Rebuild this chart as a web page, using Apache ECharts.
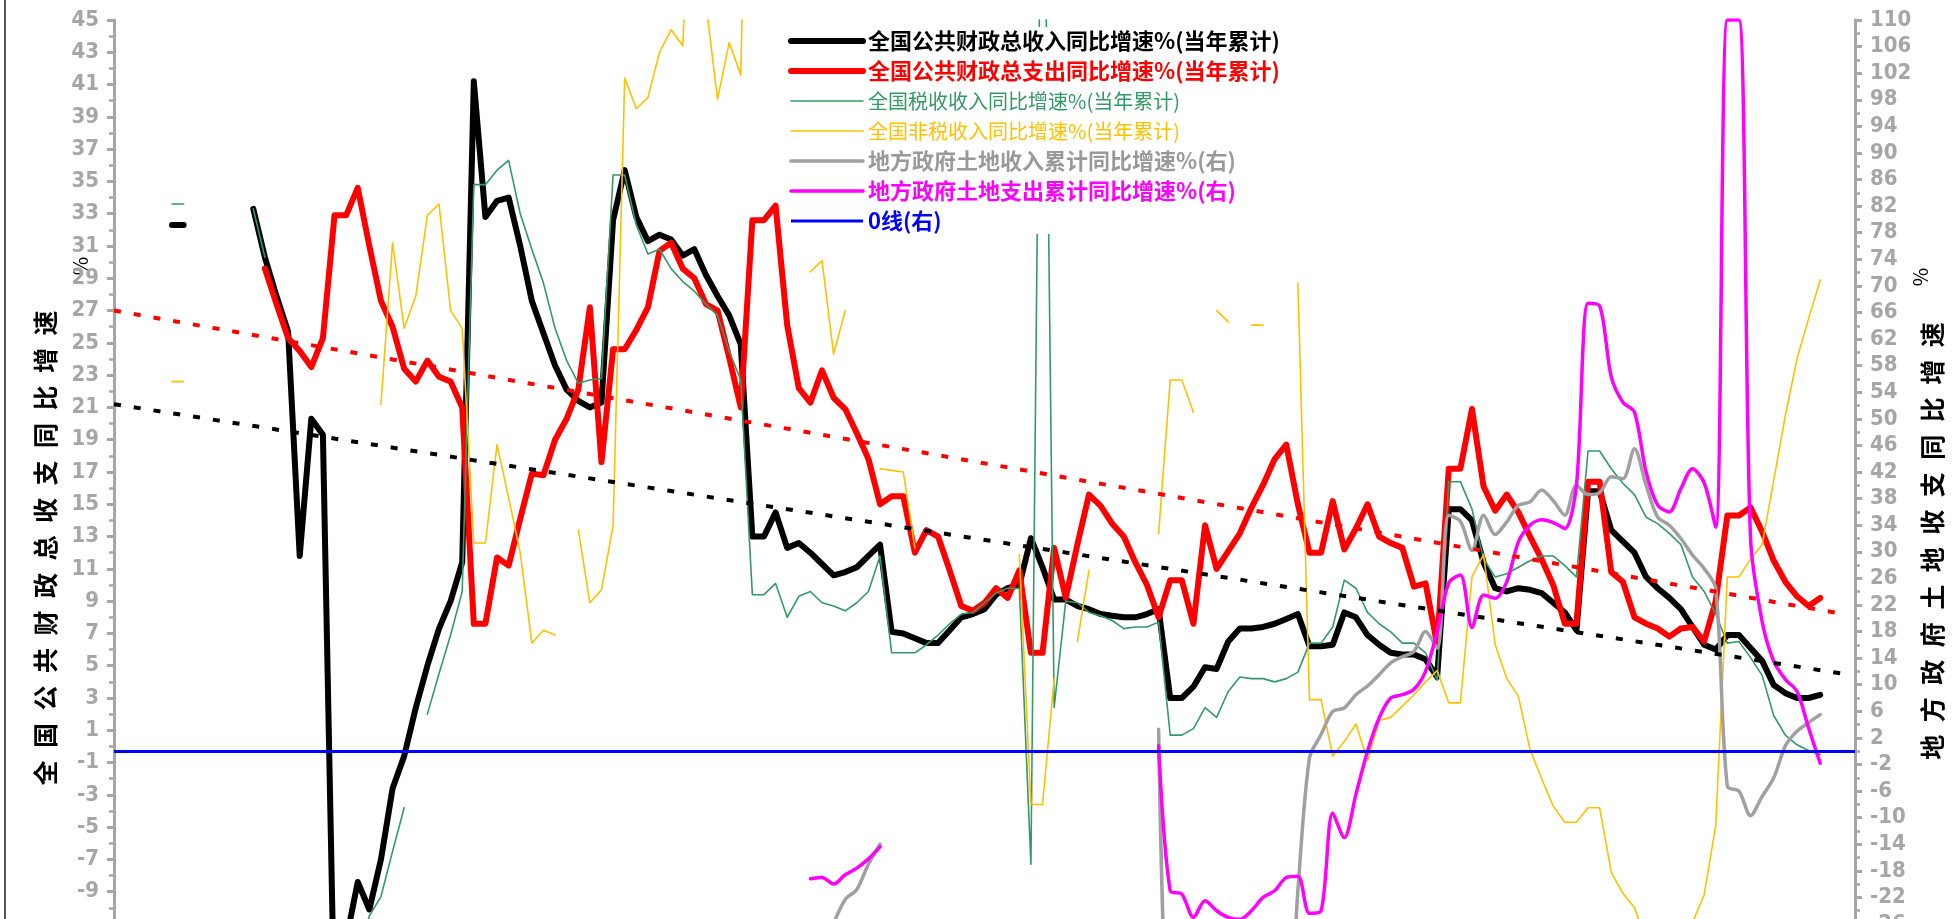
<!DOCTYPE html>
<html><head><meta charset="utf-8">
<script src="https://cdn.jsdelivr.net/npm/echarts@6/dist/echarts.min.js"></script>
<style>html,body{margin:0;padding:0;background:#fff}#c{width:1955px;height:919px}</style>
</head><body><div id="c"></div>
<script>
// monthly categories 2007-06 .. 2019-12
const categories = [];
for (let y = 2007, m = 6; y < 2020;) {
  categories.push(y + '-' + String(m).padStart(2, '0'));
  m++; if (m > 12) { m = 1; y++; }
}
const _ = null;
const seriesNames = [
  '全国公共财政总收入同比增速%(当年累计)',
  '全国公共财政总支出同比增速%(当年累计)',
  '全国税收收入同比增速%(当年累计)',
  '全国非税收入同比增速%(当年累计)',
  '地方政府土地收入累计同比增速%(右)',
  '地方政府土地支出累计同比增速%(右)',
  '0线(右)'
];
const revenue = [_,_,_,_,_,32.3,32.3,_,_,_,_,_,
 33.3,30.3,27.9,25.7,11.8,20.3,19.3,
 -17,-12,-8.4,-10.1,-7.0,-2.6,-0.6,2.4,5.0,7.3,9.0,11.4,
 41.2,32.8,33.8,34.0,31.0,27.6,25.6,23.6,22.1,21.4,21.0,21.3,
 32.6,35.7,32.8,31.3,31.7,31.4,30.4,30.8,29.2,27.9,26.7,24.9,
 13.0,13.0,14.5,12.3,12.6,12.0,11.3,10.6,10.8,11.1,11.8,12.5,
 7.1,7.0,6.7,6.4,6.4,7.2,8.0,8.2,8.5,9.4,9.8,10.0,
 12.9,11.1,9.1,9.1,8.7,8.5,8.2,8.1,8.0,8.0,8.2,8.5,
 3.0,3.0,3.7,4.9,4.8,6.5,7.3,7.3,7.4,7.6,7.9,8.2,
 6.2,6.2,6.3,8.3,8.0,6.9,6.3,5.8,5.7,5.7,5.4,4.3,
 14.7,14.7,14.0,11.4,9.8,9.6,9.8,9.7,9.5,8.9,8.3,7.2,
 15.8,15.8,13.4,12.7,12.0,10.5,9.8,9.2,8.5,7.4,6.3,6.0,
 6.9,6.9,6.1,5.3,3.8,3.3,3.0,3.0,3.2,_,_,_];
const expenditure = [_,_,_,_,_,_,_,_,_,_,_,_,_,
 29.6,27.4,25.3,24.5,23.5,25.3,
 32.9,32.9,34.6,31.0,27.6,26.0,23.4,22.6,23.9,22.9,22.6,21.0,
 7.6,7.6,11.7,11.2,14.1,16.9,16.8,19.0,20.3,22.1,27.2,17.6,
 24.6,24.6,25.8,27.2,30.7,31.2,29.6,29.0,27.4,27.0,24.1,21.0,
 32.6,32.6,33.5,26.1,22.2,21.3,23.3,21.6,20.9,19.4,17.8,15.0,
 15.5,15.5,12.0,13.4,13.0,10.9,8.7,8.4,8.9,9.8,9.2,10.9,
 5.8,5.8,12.3,9.2,12.5,15.6,14.9,13.8,13.0,11.4,10.0,8.0,
 10.3,10.3,7.6,13.7,11.0,12.1,13.2,14.8,16.2,17.8,18.7,15.0,
 12.0,12.0,15.2,12.2,13.5,15.0,13.0,12.6,12.3,9.9,10.1,6.3,
 17.2,17.2,20.9,16.1,14.6,15.6,14.5,13.0,11.6,10.0,7.6,7.6,
 16.4,16.4,10.8,10.2,8.0,7.6,7.3,6.8,7.3,7.4,6.5,9.0,
 14.3,14.3,14.8,13.3,11.5,10.2,9.3,8.7,9.2,_,_,_];
const taxRevenue = [_,_,_,_,_,33.6,33.6,_,_,_,_,_,
 33.3,30.3,_,_,_,_,_,_,_,
 -13,-10.5,-9.3,-6.5,-3.8,_,2.0,4.5,6.9,9.6,
 34.8,34.8,35.7,36.3,33.0,30.8,28.7,25.9,23.9,22.5,22.7,22.8,
 35.4,35.4,32.3,30.5,30.8,29.6,28.8,28.2,27.4,26.7,24.5,22.7,
 9.4,9.4,10.1,8.0,9.3,9.6,8.9,8.7,8.4,8.9,9.6,11.8,
 5.8,5.8,5.8,6.3,6.9,7.6,8.2,8.3,8.9,9.5,9.8,9.8,
 -7.3,65,2.4,9.0,8.9,8.3,8.1,7.8,7.3,7.4,7.4,7.7,
 0.7,0.7,1.1,2.4,1.8,3.4,4.3,4.2,4.2,4.0,4.2,4.6,
 6.4,6.4,7.4,10.3,9.8,8.3,7.6,7.1,6.4,6.4,5.8,4.1,
 16.4,16.4,14.7,11.6,10.5,10.7,11.1,11.5,11.8,11.8,11.2,10.5,
 18.3,18.3,17.2,16.3,15.6,14.2,13.8,13.2,12.5,10.5,9.6,8.2,
 6.4,6.5,5.5,4.4,1.9,0.7,0.1,-0.25,-0.5,_,_,_];
const nonTaxRevenue = [_,_,_,_,_,22.6,22.6,
 _,_,_,_,_,_,_,_,_,_,_,_,_,_,_,_,
 21.2,31.2,25.9,27.9,32.9,33.6,27.0,25.9,
 12.6,12.6,18.7,15.4,12.0,6.4,7.2,6.9,_,13.4,8.9,9.7,
 13.7,41.4,39.5,40.2,43.0,44.4,43.4,60,46,40.1,43.6,41.6,
 75,_,_,_,_,29.4,30.1,24.3,27.0,_,_,17.2,
 17.1,17.0,12.3,_,_,_,_,_,_,_,_,11.9,
 -3.6,-3.6,4.2,_,6.5,10.9,_,_,_,_,_,13.2,
 22.7,22.7,20.7,_,27.0,26.3,_,26.1,26.1,_,_,28.7,
 2.9,2.9,-0.6,0.3,1.4,-0.9,1.6,1.8,2.5,3.2,4.0,4.7,
 2.7,2.7,10.5,11.9,6.3,4.2,3.1,-0.2,-2.0,-3.7,-4.7,-4.7,
 -3.8,-3.8,-7.8,-9.1,-10.0,-12.0,-13.0,-13.5,-12.5,-10.9,-9.2,-4.9,
 10.5,10.5,11.6,12.5,16.5,20.5,24.0,26.5,28.9,_,_,_];
const landRevenue = [
 _,_,_,_,_,_,_,_,_,_,_,_,_,_,_,_,_,_,_,_,_,_,_,_,_,_,_,_,_,_,
 _,_,_,_,_,_,_,_,_,_,_,_,_,_,_,_,_,_,_,_,_,_,_,_,_,_,_,_,_,_,_,
 -29,-25.8,-22.3,-20.8,-17.0,-14.0,
 _,_,_,_,_,_,_,_,_,_,_,_,_,_,_,_,_,_,_,_,_,_,_,
 3.3,-45,-40,-38,-36,-34,-33,-32,-33,-36,-40,-45,
 -21,-1,2.5,6.0,6.5,8.5,9.8,11.5,13.3,14.2,15.0,18.0,15.5,
 35.5,34.6,30.2,35.5,32.6,34.5,37.0,37.5,39.3,37.7,35.5,40.0,
 38.6,38.9,41.3,41.0,45.5,40.0,35.2,34.0,32.0,29.5,27.5,24.5,
 -5.3,-6.0,-9.7,-6.8,-4.0,0.8,3.0,4.3,5.5,_,_,_];
const landExpenditure = [
 _,_,_,_,_,_,_,_,_,_,_,_,_,_,_,_,_,_,_,_,_,_,_,_,_,_,_,_,_,_,
 _,_,_,_,_,_,_,_,_,_,_,_,_,_,_,_,_,_,_,_,_,_,_,_,_,_,_,_,_,_,
 -19.2,-19.0,-20.0,-18.6,-17.6,-16.2,-14.4,
 _,_,_,_,_,_,_,_,_,_,_,_,_,_,_,_,_,_,_,_,_,_,_,
 0.8,-21.0,-21.5,-25.0,-22.5,-24.0,-25.0,-25.3,-24.0,-22.0,-21.0,-19.0,
 -18.8,-24.4,-24.0,-9.3,-13.0,-6.5,0.0,5.0,8.0,8.5,9.3,12.0,18.0,
 25.3,26.5,18.6,23.5,23.0,25.5,31.5,34.0,34.8,34.4,33.5,40.0,
 67.4,67.0,56.3,52.5,51.0,42.0,37.0,36.0,39.5,42.5,40.4,33.7,
 110,110,32,19.5,13.5,10.8,9.0,3.5,-1.8,_,_,_];
// linear trend lines: [value at first month, value at 2019-11]
const revenueTrendEnds = [21.2, 4.5];
const expenditureTrendEnds = [27.0, 8.2];
const leftTicks = {min: -11, max: 45, step: 2};
const rightTicks = {min: -26, max: 110, step: 4};

const chart = echarts.init(document.getElementById('c'), null, {renderer: 'canvas'});
const trendEndCat = categories[149];
function ln(name, data, color, width, yIdx, smooth, z) {
  return {name, type: 'line', data, yAxisIndex: yIdx, symbol: 'none', smooth: smooth || false,
    connectNulls: false, z: z || 2,
    lineStyle: {color, width, join: 'round', cap: 'round'}, itemStyle: {color}};
}
const axisGray = '#A6A6A6';
const labelFont = {color: axisGray, fontFamily: '"Liberation Sans Narrow","Arial Narrow","DejaVu Sans Condensed",sans-serif', fontWeight: 'bold', fontSize: 22};
function yAx(t, pos, hideMin) {
  return {type: 'value', position: pos, min: t.min, max: t.max, interval: t.step,
    axisLine: {show: true, onZero: false, lineStyle: {color: axisGray, width: 3}},
    axisTick: {show: true, length: 7, lineStyle: {color: axisGray, width: 3}},
    minorTick: {show: true, splitNumber: 2, length: 5, lineStyle: {color: axisGray, width: 2.5}},
    splitLine: {show: false},
    axisLabel: Object.assign({margin: 15, showMinLabel: !hideMin}, labelFont)};
}
const cjk = '"Noto Sans CJK SC", sans-serif';
const sp = s => s.split('').join('\u2002');
function legItem(i, color, size, bold, w) {
  return {name: seriesNames[i], lineStyle: {width: w},
    textStyle: {color, fontSize: size, fontWeight: bold ? 'bold' : 'normal'}};
}
chart.setOption({
  animation: false,
  backgroundColor: '#fff',
  grid: {left: 114, right: 100, top: 20, bottom: -5, containLabel: false, outerBoundsMode: 'none'},
  xAxis: {type: 'category', data: categories, boundaryGap: false, show: false},
  yAxis: [yAx(leftTicks, 'left', true), yAx(rightTicks, 'right', false)],
  legend: {
    orient: 'vertical', left: 783, top: 27, padding: [3, 10, 2, 5], backgroundColor: '#fff',
    itemWidth: 72, itemHeight: 14, itemGap: 8, selectedMode: false,
    itemStyle: {opacity: 0},
    textStyle: {fontFamily: cjk, lineHeight: 22},
    data: [
      legItem(0, '#000000', 22, true, 6),
      legItem(1, '#FF0000', 22, true, 6),
      legItem(2, '#339966', 20, false, 1.6),
      legItem(3, '#FFC000', 20, false, 1.6),
      legItem(4, '#999999', 22, true, 3.5),
      legItem(5, '#FF00FF', 22, true, 3.5),
      legItem(6, '#0000FF', 22, true, 3)
    ]
  },
  graphic: [
    {type: 'line', shape: {x1: 5, y1: 0, x2: 5, y2: 919}, style: {stroke: '#555', lineWidth: 2}, silent: true},
    {type: 'text', x: 45, y: 548, rotation: Math.PI / 2, silent: true,
      style: {text: sp('全国公共财政总收支同比增速'), fill: '#000', font: 'bold 25px ' + cjk, align: 'center', verticalAlign: 'middle'}},
    {type: 'text', x: 80, y: 266, rotation: Math.PI / 2, silent: true,
      style: {text: '%', fill: '#000', font: '20px ' + cjk, align: 'center', verticalAlign: 'middle'}},
    {type: 'text', x: 1932, y: 541, rotation: Math.PI / 2, silent: true,
      style: {text: sp('地方政府土地收支同比增速'), fill: '#000', font: 'bold 25px ' + cjk, align: 'center', verticalAlign: 'middle'}},
    {type: 'text', x: 1920, y: 277, rotation: Math.PI / 2, silent: true,
      style: {text: '%', fill: '#000', font: '20px ' + cjk, align: 'center', verticalAlign: 'middle'}}
  ],
  series: [
    ln(seriesNames[0], revenue, '#000000', 6, 0, false, 3),
    ln(seriesNames[1], expenditure, '#FF0000', 6, 0, false, 3),
    ln(seriesNames[2], taxRevenue, '#339966', 1.6, 0, false, 3),
    ln(seriesNames[3], nonTaxRevenue, '#FFC000', 1.6, 0, false, 3),
    ln(seriesNames[4], landRevenue, '#A0A0A0', 3.5, 1, 0.3, 3),
    ln(seriesNames[5], landExpenditure, '#FF00FF', 3.5, 1, 0.3, 3),
    {name: seriesNames[6], type: 'line', yAxisIndex: 1, data: [], symbol: 'none',
      lineStyle: {color: '#0000FF', width: 3}, itemStyle: {color: '#0000FF'}, z: 3,
      markLine: {silent: true, symbol: 'none', label: {show: false}, animation: false,
        lineStyle: {color: '#0000FF', width: 3, type: 'solid'}, data: [{yAxis: 0}]}},
    {name: 'trendRev', type: 'line', yAxisIndex: 0, symbol: 'none', z: 4, connectNulls: true,
      data: [[categories[0], revenueTrendEnds[0]], [trendEndCat, revenueTrendEnds[1]]],
      lineStyle: {color: '#000', width: 4, type: [7, 13]}},
    {name: 'trendExp', type: 'line', yAxisIndex: 0, symbol: 'none', z: 4, connectNulls: true,
      data: [[categories[0], expenditureTrendEnds[0]], [trendEndCat, expenditureTrendEnds[1]]],
      lineStyle: {color: '#FF0000', width: 4, type: [7, 13]}}
  ]
});
</script></body></html>
